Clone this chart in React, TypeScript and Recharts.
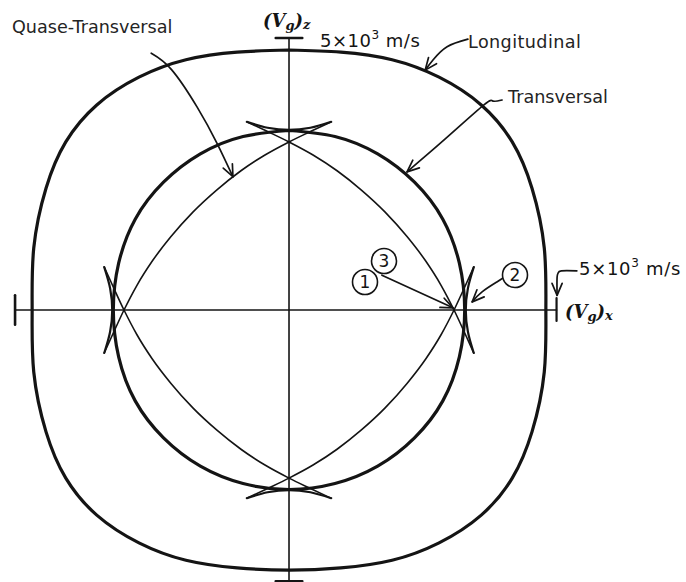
import React from 'react';
import { ComposedChart, Line, XAxis, YAxis } from 'recharts';

const W = 686;
const H = 582;
// velocity axes in 10^3 m/s
const X_DOMAIN: [number, number] = [-5.412, 7.434];
const Y_DOMAIN: [number, number] = [-5.0, 5.699];
const SX = W / (X_DOMAIN[1] - X_DOMAIN[0]);
const SY = H / (Y_DOMAIN[1] - Y_DOMAIN[0]);
const INK = '#141414';
const TEXT = '#242424';

type Pt = { x: number; y: number };

// Longitudinal sheet, first quadrant from the z axis round to the x axis
const longitudinalQ1 = [
  [0, 4.78], [0.97, 4.74], [1.93, 4.6], [2.81, 4.28], [3.6, 3.77],
  [4.18, 3.09], [4.55, 2.24], [4.78, 1.14], [4.81, 0],
];

// Transversal sheet, first quadrant
const transversalQ1 = [
  [0, 3.3], [0.86, 3.19], [1.66, 2.87], [2.35, 2.35], [2.88, 1.67], [3.19, 0.86], [3.29, 0],
];

// Quasi-transversal lobe between the z and x cusps (runs past both crossings out to the cusp tips)
const quasiEdgeQ1 = [
  [-0.79, 3.46], [-0.4, 3.28], [0, 3.09], [0.45, 2.85], [0.9, 2.56], [1.35, 2.21],
  [1.8, 1.8], [2.21, 1.35], [2.56, 0.9], [2.85, 0.45], [3.09, 0], [3.28, -0.4], [3.46, -0.79],
];

// cusp wings joining the tips
const quasiCuspZ = [[-0.79, 3.46], [-0.4, 3.35], [0, 3.31], [0.4, 3.35], [0.79, 3.46]];
const quasiCuspX = [[3.46, -0.79], [3.35, -0.4], [3.31, 0], [3.35, 0.4], [3.46, 0.79]];

// axes and their end ticks
const axisX = [[-5.13, 0], [5.01, 0]];
const axisZ = [[0, -5.0], [0, 5.0]];
const tickZTop = [[-0.25, 5.0], [0.25, 5.0]];
const tickZBottom = [[-0.25, -4.985], [0.25, -4.985]];
const tickXLeft = [[-5.13, -0.27], [-5.13, 0.27]];
const tickXRight = [[5.01, -0.2], [5.01, 0.22]];

// callout arrows (start -> tip)
const arrowQuase = [[-2.58, 4.72], [-2.2, 4.42], [-1.72, 3.73], [-1.35, 3.07], [-1.05, 2.45]];
const arrowLong = [[3.35, 4.98], [2.96, 4.84], [2.7, 4.6], [2.55, 4.41]];
const arrowTrans = [[3.99, 3.86], [3.82, 3.84], [3.65, 3.77], [2.92, 3.14], [2.21, 2.54]];
const arrow13 = [[1.74, 0.64], [3.07, 0.04]];
const arrow2 = [[4.01, 0.59], [3.9, 0.52], [3.61, 0.33], [3.43, 0.15]];
const arrowScale = [[5.39, 0.72], [5.1, 0.72], [5.04, 0.68], [5.02, 0.6], [5.02, 0.27]];

const toPts = (arr: number[][]): Pt[] => arr.map(([x, y]) => ({ x, y }));
// mirror a run, keeping x increasing so the monotone curves stay happy
const flip = (arr: number[][], sx: number, sy: number): Pt[] => {
  const pts = arr.map(([x, y]) => ({ x: x * sx, y: y * sy }));
  return sx < 0 ? pts.reverse() : pts;
};

// close a first-quadrant run into a full loop using the cubic symmetry
function closeLoop(q: number[][]): Pt[] {
  const loop: number[][] = [...q];
  for (let i = q.length - 2; i >= 0; i--) loop.push([q[i][0], -q[i][1]]);
  for (let i = 1; i < q.length; i++) loop.push([-q[i][0], -q[i][1]]);
  for (let i = q.length - 2; i >= 0; i--) loop.push([-q[i][0], q[i][1]]);
  return toPts(loop);
}

// open V head at the last point of a path, sized in pixels
function arrowHead(path: number[][], len = 13, spread = 0.4): Pt[] {
  const [tx, ty] = path[path.length - 1];
  const [px, py] = path[path.length - 2];
  let dx = (px - tx) * SX;
  let dy = (py - ty) * SY;
  const n = Math.hypot(dx, dy);
  dx /= n;
  dy /= n;
  const arm = (a: number): Pt => ({
    x: tx + (len * (dx * Math.cos(a) - dy * Math.sin(a))) / SX,
    y: ty + (len * (dx * Math.sin(a) + dy * Math.cos(a))) / SY,
  });
  return [arm(spread), { x: tx, y: ty }, arm(-spread)];
}

const QUADRANTS: [number, number][] = [[1, 1], [-1, 1], [-1, -1], [1, -1]];

const curve = (key: string, data: Pt[], width: number, type: any = 'natural') => (
  <Line
    key={key}
    data={data}
    dataKey="y"
    type={type}
    stroke={INK}
    strokeWidth={width}
    strokeLinecap="round"
    strokeLinejoin="round"
    dot={false}
    activeDot={false}
    isAnimationActive={false}
  />
);

const CALLOUTS: [string, number[][]][] = [
  ['quase', arrowQuase],
  ['long', arrowLong],
  ['trans', arrowTrans],
  ['a13', arrow13],
  ['a2', arrow2],
  ['scale', arrowScale],
];

const sans = '"DejaVu Sans", sans-serif';
const serifBI = '"DejaVu Serif", serif';

const Circled: React.FC<{ cx: number; cy: number; n: string }> = ({ cx, cy, n }) => (
  <g>
    <circle cx={cx} cy={cy} r={12.5} fill="#fff" stroke={INK} strokeWidth={1.6} />
    <text x={cx} y={cy + 6} textAnchor="middle" fontFamily={sans} fontSize={17} fill={INK}>{n}</text>
  </g>
);

export default function App() {
  return (
    <div style={{ position: 'absolute', left: 0, top: 0, width: W, height: H, background: '#fff' }}>
      <ComposedChart width={W} height={H} margin={{ top: 0, right: 0, bottom: 0, left: 0 }}>
        <XAxis type="number" dataKey="x" domain={X_DOMAIN} allowDataOverflow hide />
        <YAxis type="number" dataKey="y" domain={Y_DOMAIN} allowDataOverflow hide />

        {curve('axisX', toPts(axisX), 1.6, 'linear')}
        {curve('axisZ', toPts(axisZ), 1.6, 'linear')}
        {curve('tickZTop', toPts(tickZTop), 2.4, 'linear')}
        {curve('tickZBottom', toPts(tickZBottom), 2.4, 'linear')}
        {curve('tickXLeft', toPts(tickXLeft), 2.6, 'linear')}
        {curve('tickXRight', toPts(tickXRight), 2.2, 'linear')}

        {curve('longitudinal', closeLoop(longitudinalQ1), 3.2)}
        {curve('transversal', closeLoop(transversalQ1), 3.2)}

        {QUADRANTS.map(([sx, sy]) => curve(`qt-${sx}-${sy}`, flip(quasiEdgeQ1, sx, sy), 1.6, 'monotoneX'))}
        {[1, -1].map((s) => curve(`cz-${s}`, flip(quasiCuspZ, 1, s), 2.2, 'monotoneX'))}
        {[1, -1].map((s) => curve(`cx-${s}`, flip(quasiCuspX, s, 1), 2.2, 'monotoneY'))}

        {CALLOUTS.map(([k, p]) => curve(`c-${k}`, toPts(p), 1.7, k === 'a13' ? 'linear' : 'natural'))}
        {CALLOUTS.map(([k, p]) => curve(`h-${k}`, arrowHead(p), 1.7, 'linear'))}
      </ComposedChart>

      <svg width={W} height={H} style={{ position: 'absolute', left: 0, top: 0, pointerEvents: 'none' }}>
        <text x={12} y={33} fontFamily={sans} fontSize={17.6} fill={TEXT}>Quase-Transversal</text>
        <text x={468} y={48} fontFamily={sans} fontSize={17.6} fill={TEXT} letterSpacing={0.4}>Longitudinal</text>
        <text x={508} y={103} fontFamily={sans} fontSize={17.6} fill={TEXT}>Transversal</text>

        <text x={320} y={47} fontFamily={sans} fontSize={18} fill={INK} letterSpacing={0.5}>
          5×10<tspan dy={-8} fontSize={12}>3</tspan><tspan dy={8}> m/s</tspan>
        </text>
        <text x={579} y={275} fontFamily={sans} fontSize={18} fill={INK} letterSpacing={0.7}>
          5×10<tspan dy={-8} fontSize={12}>3</tspan><tspan dy={8}> m/s</tspan>
        </text>

        <text x={263} y={27} fontFamily={serifBI} fontWeight="bold" fontStyle="italic" fontSize={18} fill={INK}>
          (V<tspan dy={3} fontSize={13}>g</tspan><tspan dy={-3}>)</tspan><tspan dy={2} fontSize={13}>z</tspan>
        </text>
        <text x={565} y={318} fontFamily={serifBI} fontWeight="bold" fontStyle="italic" fontSize={18} fill={INK}>
          (V<tspan dy={3} fontSize={13}>g</tspan><tspan dy={-3}>)</tspan><tspan dy={2} fontSize={13}>x</tspan>
        </text>

        <Circled cx={384} cy={261} n="3" />
        <Circled cx={365} cy={282} n="1" />
        <Circled cx={515} cy={275} n="2" />
      </svg>
    </div>
  );
}
